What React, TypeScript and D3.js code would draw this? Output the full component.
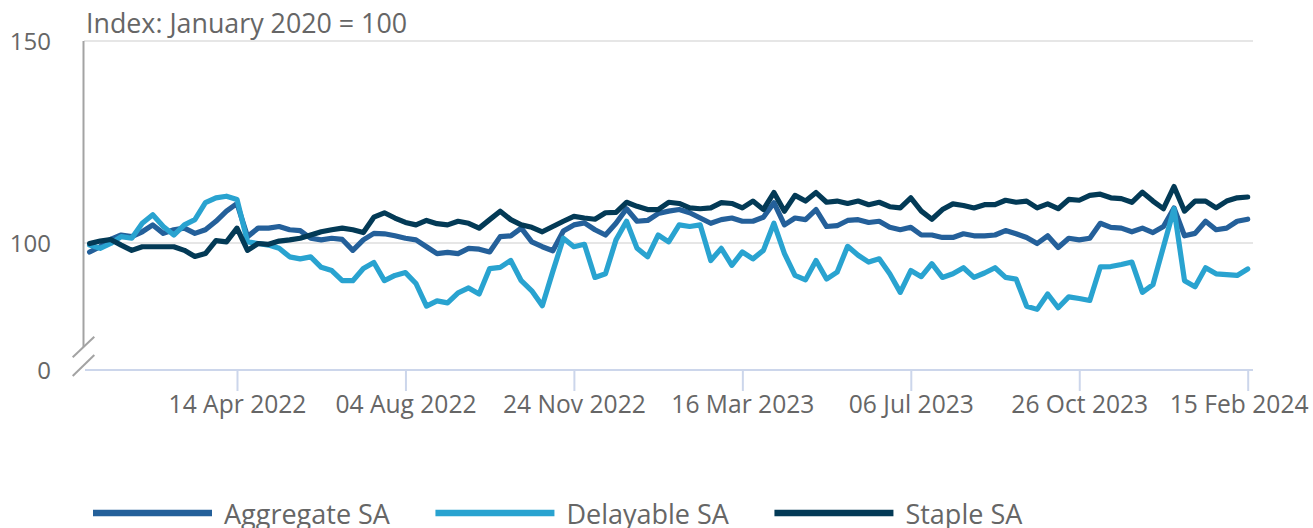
import React, { useEffect, useRef } from "react";
import * as d3 from "d3";

// weekly observations, first week below
const firstWeek = "2022-01-06";

const aggregateSA = [
  97.8, 99.1, 100.9, 102.0, 101.6, 102.8, 104.5, 102.4, 103.3, 103.7,
  102.4, 103.3, 105.4, 107.9, 109.8, 101.6, 103.7, 103.7, 104.1, 103.3,
  103.1, 101.2, 100.8, 101.2, 100.9, 98.2, 100.8, 102.4, 102.3, 101.8,
  101.2, 100.8, 99.1, 97.4, 97.7, 97.4, 98.7, 98.5, 97.8, 101.6,
  101.8, 103.7, 100.3, 99.1, 98.1, 103.0, 104.5, 105.0, 103.3, 102.0,
  104.9, 108.5, 105.4, 105.6, 107.3, 107.9, 108.3, 107.5, 106.2, 104.9,
  105.8, 106.2, 105.4, 105.4, 106.4, 110.0, 104.5, 106.2, 105.8, 108.3,
  104.1, 104.3, 105.6, 105.8, 105.1, 105.4, 103.9, 103.3, 103.9, 102.0,
  102.0, 101.4, 101.4, 102.3, 101.8, 101.8, 102.0, 103.1, 102.3, 101.4,
  99.9, 101.8, 98.9, 101.2, 100.8, 101.2, 104.9, 103.9, 103.7, 102.8,
  103.7, 102.6, 104.1, 108.7, 101.8, 102.4, 105.4, 103.3, 103.7, 105.4,
  105.9,
];

const delayableSA = [
  99.5, 98.7, 99.9, 101.6, 101.2, 104.9, 107.0, 104.1, 102.0, 104.5,
  105.8, 110.0, 111.2, 111.6, 110.8, 100.3, 99.9, 99.5, 98.7, 96.6,
  96.1, 96.6, 94.0, 93.2, 90.7, 90.7, 93.7, 95.2, 90.7, 92.0,
  92.7, 90.0, 84.4, 85.7, 85.2, 87.7, 88.9, 87.4, 93.7, 94.0,
  95.7, 90.7, 88.2, 84.5, 93.0, 101.2, 99.1, 99.7, 91.5, 92.4,
  100.8, 105.4, 98.7, 96.6, 102.0, 100.3, 104.5, 104.1, 104.5, 95.7,
  98.7, 94.5, 97.8, 96.1, 98.2, 104.9, 97.4, 92.0, 90.9, 95.7,
  91.1, 92.8, 99.2, 97.0, 95.3, 96.1, 92.4, 87.8, 93.2, 91.7,
  94.9, 91.5, 92.4, 93.9, 91.5, 92.6, 93.9, 91.5, 91.1, 84.4,
  83.6, 87.4, 84.0, 86.7, 86.3, 85.8, 94.1, 94.2, 94.7, 95.3,
  87.8, 89.7, 99.1, 108.5, 90.7, 89.2, 93.9, 92.4, 92.2, 92.0,
  93.6,
];

const stapleSA = [
  99.9, 100.5, 100.9, 99.5, 98.2, 99.1, 99.1, 99.1, 99.1, 98.2,
  96.7, 97.4, 100.6, 100.3, 103.7, 98.2, 99.9, 99.7, 100.5, 100.8,
  101.2, 102.0, 102.8, 103.3, 103.7, 103.3, 102.6, 106.4, 107.5, 106.2,
  105.1, 104.5, 105.6, 104.8, 104.5, 105.4, 104.9, 103.7, 105.8, 107.9,
  105.8, 104.5, 103.9, 102.8, 104.1, 105.4, 106.6, 106.2, 105.9, 107.5,
  107.6, 110.1, 109.1, 108.3, 108.3, 110.1, 109.8, 108.7, 108.5, 108.7,
  110.0, 109.8, 108.7, 110.4, 108.3, 112.5, 107.9, 111.8, 110.4, 112.5,
  110.1, 110.4, 109.8, 110.4, 109.5, 110.1, 109.0, 108.7, 111.2, 107.9,
  105.9, 108.3, 109.7, 109.3, 108.7, 109.5, 109.5, 110.6, 110.1, 110.4,
  108.7, 109.7, 108.5, 110.8, 110.6, 111.8, 112.1, 111.2, 111.0, 110.1,
  112.6, 110.4, 108.5, 114.0, 107.9, 110.4, 110.4, 108.7, 110.4, 111.2,
  111.4,
];

const seriesNames = ["Aggregate SA", "Delayable SA", "Staple SA"];
const seriesColors = ["#24609a", "#29a3d0", "#033a56"];

const xTickDates = [
  "2022-04-14", "2022-08-04", "2022-11-24", "2023-03-16",
  "2023-07-06", "2023-10-26", "2024-02-15",
];
const yTickValues = [0, 100, 150];
const yGridValues = [100, 150];
const axisTitle = "Index: January 2020 = 100";

const App = () => {
  const svgRef = useRef<SVGSVGElement>(null);

  useEffect(() => {
    document.body.style.margin = "0";
    const svg = d3.select(svgRef.current);
    svg.selectAll("*").remove();

    const width = 1313;
    const plotLeft = 84;
    const plotRight = 1253;
    const baseY = 370;
    const topY = 41;
    const font = "'Open Sans', sans-serif";
    const labelColor = "#666666";

    const parse = d3.timeParse("%Y-%m-%d");
    const start = parse(firstWeek)!;
    const dates = aggregateSA.map((_, i) => d3.timeDay.offset(start, 7 * i));

    const x = d3
      .scaleTime()
      .domain([dates[0], dates[dates.length - 1]])
      .range([89.6, 1247.7]);

    // broken axis: everything below the break sits on the baseline
    const y = d3.scaleLinear().domain([0, 68.6, 150]).range([baseY, baseY, topY]);

    // grid
    svg
      .append("g")
      .selectAll("line")
      .data(yGridValues)
      .enter()
      .append("line")
      .attr("x1", plotLeft)
      .attr("x2", plotRight)
      .attr("y1", (d) => y(d))
      .attr("y2", (d) => y(d))
      .attr("stroke", "#e6e6e6")
      .attr("stroke-width", 2);

    // y axis line with break
    const yAxis = svg.append("g").attr("stroke", "#a3a3a3").attr("stroke-width", 2);
    yAxis.append("line").attr("x1", 83.5).attr("x2", 83.5).attr("y1", topY).attr("y2", 347);
    yAxis.append("line").attr("x1", 72.7).attr("y1", 357.3).attr("x2", 94.3).attr("y2", 336.7);
    yAxis.append("line").attr("x1", 72.7).attr("y1", 376).attr("x2", 94.3).attr("y2", 355);

    svg
      .append("g")
      .selectAll("text")
      .data(yTickValues)
      .enter()
      .append("text")
      .attr("x", 51)
      .attr("y", (d) => y(d) + 8.5)
      .attr("text-anchor", "end")
      .attr("font-family", font)
      .attr("font-size", 24)
      .attr("fill", labelColor)
      .text((d) => d);

    svg
      .append("text")
      .attr("x", 86)
      .attr("y", 33)
      .attr("font-family", font)
      .attr("font-size", 26.8)
      .attr("fill", labelColor)
      .text(axisTitle);

    // x axis
    svg
      .append("line")
      .attr("x1", 85)
      .attr("x2", plotRight)
      .attr("y1", baseY)
      .attr("y2", baseY)
      .attr("stroke", "#ccd6eb")
      .attr("stroke-width", 2);

    const xAxis = svg
      .append("g")
      .attr("transform", `translate(0, ${baseY})`)
      .call(
        d3
          .axisBottom(x)
          .tickValues(xTickDates.map((d) => parse(d)!))
          .tickSize(21)
          .tickPadding(5)
          .tickFormat((d) => d3.timeFormat("%d %b %Y")(d as Date))
      );
    xAxis.select(".domain").remove();
    xAxis.selectAll(".tick line").attr("stroke", "#ccd6eb").attr("stroke-width", 2);
    xAxis
      .selectAll<SVGTextElement, Date>(".tick text")
      .attr("font-family", font)
      .attr("font-size", 24.6)
      .attr("fill", labelColor)
      .each(function (d) {
        const w = this.getComputedTextLength();
        const cx = x(d);
        const over = cx + w / 2 - (width - 5);
        if (over > 0) d3.select(this).attr("x", -over);
      });

    // series
    const line = d3
      .line<number>()
      .x((_, i) => x(dates[i]))
      .y((d) => y(d));

    [aggregateSA, delayableSA, stapleSA].forEach((values, k) => {
      svg
        .append("path")
        .datum(values)
        .attr("d", line)
        .attr("fill", "none")
        .attr("stroke", seriesColors[k])
        .attr("stroke-width", 5.2)
        .attr("stroke-linejoin", "round")
        .attr("stroke-linecap", "round");
    });

    // legend (cut by the bottom edge, as in the original)
    let cursor = 93;
    seriesNames.forEach((name, k) => {
      const g = svg.append("g").attr("transform", `translate(${cursor}, 0)`);
      g.append("line")
        .attr("x1", 0)
        .attr("x2", 119)
        .attr("y1", 513)
        .attr("y2", 513)
        .attr("stroke", seriesColors[k])
        .attr("stroke-width", 6.5);
      const t = g
        .append("text")
        .attr("x", 131)
        .attr("y", 524)
        .attr("font-family", font)
        .attr("font-size", 27)
        .attr("fill", labelColor)
        .text(name);
      cursor += 131 + (t.node() as SVGTextElement).getComputedTextLength() + 45.5;
    });

    return () => {
      svg.selectAll("*").remove();
    };
  }, []);

  return (
    <div style={{ width: 1313, height: 528, overflow: "hidden" }}>
      <svg ref={svgRef} width={1313} height={528} style={{ display: "block" }} />
    </div>
  );
};

export default App;
